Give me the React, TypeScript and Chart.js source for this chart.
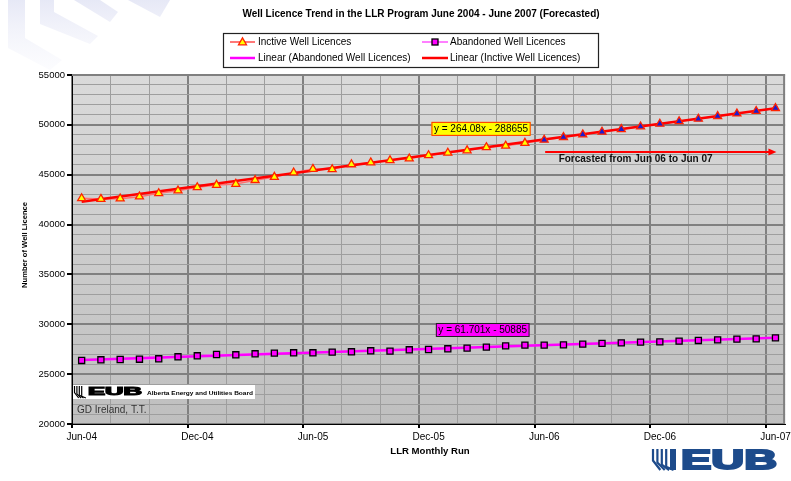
import React, { useEffect, useRef } from 'react';
import { Chart, registerables } from 'chart.js';
Chart.register(...registerables);

const FONT = '"Liberation Sans", Arial, Helvetica, sans-serif';

const chartTitle = 'Well Licence Trend in the LLR Program June 2004 - June 2007 (Forecasted)';
const xAxisTitle = 'LLR Monthly Run';
const yAxisTitle = 'Number of Well Licence';

const xTickLabels = ['Jun-04', 'Dec-04', 'Jun-05', 'Dec-05', 'Jun-06', 'Dec-06', 'Jun-07'];
const monthsPerLabel = 6;
const monthCount = 37;
const yMin = 20000;
const yMax = 55000;

// Inactive well licences, Jun-04 .. May-06 (actual)
const inactiveActual = [
  42630, 42560, 42600, 42800, 43130, 43400, 43730, 43970, 44070, 44450, 44770, 45210,
  45570, 45540, 46030, 46220, 46440, 46620, 46940, 47190, 47430, 47750, 47900, 48180,
];
// Inactive well licences, Jun-06 .. Jun-07 (forecast)
const inactiveForecast = [
  48490, 48760, 49030, 49300, 49560, 49830, 50100, 50350, 50600, 50870, 51130, 51380, 51670,
];
// Abandoned well licences, Jun-04 .. Jun-07
const abandoned = [
  26370, 26440, 26470, 26500, 26540, 26740, 26840, 26970, 26940, 27040, 27110, 27140,
  27140, 27210, 27240, 27340, 27310, 27440, 27470, 27540, 27610, 27710, 27840, 27910,
  27910, 27940, 28010, 28080, 28140, 28210, 28240, 28310, 28380, 28440, 28510, 28540, 28640,
];
// Linear trendlines: value at first and last month
const inactiveTrend = [42280, 51670];
const abandonedTrend = [26420, 28640];

const inactiveEquation = 'y = 264.08x - 288655';
const abandonedEquation = 'y = 61.701x - 50885';
const forecastNote = 'Forcasted from Jun 06 to Jun 07';
const credit = 'GD Ireland, T.T.';
const eubSmallText = 'Alberta Energy and Utilities Board';
const legendLabels = [
  'Inctive Well Licences',
  'Abandoned Well Licences',
  'Linear (Abandoned Well Licences)',
  'Linear (Inctive Well Licences)',
];

const bgStripes = [
  [[8, 0], [25, 0], [25, 38], [62, 60], [50, 70], [8, 48]],
  [[40, 0], [54, 0], [54, 12], [98, 36], [90, 44], [40, 24]],
  [[74, 0], [100, 0], [118, 12], [110, 22]],
  [[128, 0], [170, 0], [160, 17]],
];

function drawTriangle(ctx: CanvasRenderingContext2D, x: number, y: number, r: number, fill: string, stroke: string) {
  ctx.beginPath();
  ctx.moveTo(x, y - r);
  ctx.lineTo(x + r * 0.866, y + r / 2);
  ctx.lineTo(x - r * 0.866, y + r / 2);
  ctx.closePath();
  ctx.fillStyle = fill;
  ctx.fill();
  ctx.strokeStyle = stroke;
  ctx.lineWidth = 1.3;
  ctx.stroke();
}

function eqBox(ctx: CanvasRenderingContext2D, text: string, x: number, y: number, fill: string, stroke: string) {
  ctx.font = `10px ${FONT}`;
  const w = ctx.measureText(text).width;
  ctx.fillStyle = fill;
  ctx.fillRect(x, y, w + 5, 14);
  ctx.strokeStyle = stroke;
  ctx.lineWidth = 1;
  ctx.strokeRect(x + 0.5, y + 0.5, w + 4, 13);
  ctx.fillStyle = '#000';
  ctx.textAlign = 'left';
  ctx.textBaseline = 'middle';
  ctx.fillText(text, x + 2.5, y + 7.5);
}

function drawEubStripes(ctx: CanvasRenderingContext2D, x: number, top: number, h: number, color: string, w: number) {
  ctx.strokeStyle = color;
  ctx.lineWidth = w;
  for (let k = 0; k < 4; k++) {
    const sx = x + k * (w * 2);
    ctx.beginPath();
    ctx.moveTo(sx, top);
    ctx.lineTo(sx, top + h * (0.55 + k * 0.1));
    ctx.lineTo(sx + h * 0.35, top + h);
    ctx.stroke();
  }
}

function scaledText(ctx: CanvasRenderingContext2D, text: string, x: number, yBase: number, font: string, width: number, color: string, strokeW = 0) {
  ctx.font = font;
  const m = ctx.measureText(text).width;
  ctx.save();
  ctx.translate(x, yBase);
  ctx.scale(width / m, 1);
  ctx.fillStyle = color;
  ctx.textAlign = 'left';
  ctx.textBaseline = 'alphabetic';
  ctx.fillText(text, 0, 0);
  if (strokeW > 0) {
    ctx.strokeStyle = color;
    ctx.lineWidth = strokeW;
    ctx.lineJoin = 'miter';
    ctx.strokeText(text, 0, 0);
  }
  ctx.restore();
}

const decorPlugin = {
  id: 'decor',
  beforeDraw(chart: any) {
    const { ctx, chartArea: a, width, height } = chart;
    ctx.save();
    ctx.fillStyle = '#fff';
    ctx.fillRect(0, 0, width, height);
    const g = ctx.createLinearGradient(0, 0, 0, 72);
    g.addColorStop(0, 'rgba(214,217,240,0.6)');
    g.addColorStop(1, 'rgba(244,245,252,0.25)');
    ctx.fillStyle = g;
    for (const poly of bgStripes) {
      ctx.beginPath();
      poly.forEach(([px, py], i) => (i ? ctx.lineTo(px, py) : ctx.moveTo(px, py)));
      ctx.closePath();
      ctx.fill();
    }
    const pg = ctx.createLinearGradient(0, a.top, 0, a.bottom);
    pg.addColorStop(0, '#dadada');
    pg.addColorStop(1, '#bfbfbf');
    ctx.fillStyle = pg;
    ctx.fillRect(a.left, a.top, a.right - a.left, a.bottom - a.top);
    ctx.restore();
  },
  beforeDatasetsDraw(chart: any) {
    const { ctx, chartArea: a } = chart;
    ctx.save();
    ctx.strokeStyle = '#808080';
    ctx.lineWidth = 2;
    ctx.beginPath();
    ctx.moveTo(a.left, a.top);
    ctx.lineTo(a.right - 1, a.top);
    ctx.lineTo(a.right - 1, a.bottom);
    ctx.stroke();
    ctx.restore();
  },
  afterDraw(chart: any) {
    const { ctx, chartArea: a } = chart;
    const xs = chart.scales.x;
    const ys = chart.scales.y;
    ctx.save();

    // Title
    ctx.fillStyle = '#000';
    ctx.font = `bold 10px ${FONT}`;
    ctx.textAlign = 'center';
    ctx.textBaseline = 'middle';
    ctx.fillText(chartTitle, 421, 14);

    // Axis titles
    ctx.font = `bold 9.6px ${FONT}`;
    ctx.fillText(xAxisTitle, 430, 451);
    ctx.save();
    ctx.translate(25, 245);
    ctx.rotate(-Math.PI / 2);
    ctx.font = `bold 7.6px ${FONT}`;
    ctx.fillText(yAxisTitle, 0, 0);
    ctx.restore();

    // Legend
    ctx.fillStyle = '#fff';
    ctx.fillRect(223, 33, 375, 34);
    ctx.strokeStyle = '#222';
    ctx.lineWidth = 1.2;
    ctx.strokeRect(223.5, 33.5, 375, 34);
    ctx.lineCap = 'butt';
    const row1 = 42, row2 = 58;
    ctx.lineWidth = 2;
    ctx.strokeStyle = '#ff7878';
    ctx.beginPath(); ctx.moveTo(230, row1); ctx.lineTo(255, row1); ctx.stroke();
    drawTriangle(ctx, 242.5, row1 + 0.5, 4.6, '#ffff00', '#ff2200');
    ctx.strokeStyle = '#ff80ff';
    ctx.lineWidth = 2;
    ctx.beginPath(); ctx.moveTo(422, row1); ctx.lineTo(448, row1); ctx.stroke();
    ctx.fillStyle = '#ff00ff';
    ctx.fillRect(432, row1 - 3, 6, 6);
    ctx.strokeStyle = '#000';
    ctx.lineWidth = 1.3;
    ctx.strokeRect(432, row1 - 3, 6, 6);
    ctx.lineWidth = 2.5;
    ctx.strokeStyle = '#ff00ff';
    ctx.beginPath(); ctx.moveTo(230, row2); ctx.lineTo(255, row2); ctx.stroke();
    ctx.strokeStyle = '#ff0000';
    ctx.beginPath(); ctx.moveTo(422, row2); ctx.lineTo(448, row2); ctx.stroke();
    ctx.fillStyle = '#000';
    ctx.font = `10px ${FONT}`;
    ctx.textAlign = 'left';
    ctx.textBaseline = 'middle';
    ctx.fillText(legendLabels[0], 258, row1 + 0.5);
    ctx.fillText(legendLabels[1], 450, row1 + 0.5);
    ctx.fillText(legendLabels[2], 258, row2 + 0.5);
    ctx.fillText(legendLabels[3], 450, row2 + 0.5);

    // Equation labels
    eqBox(ctx, inactiveEquation, xs.getPixelForValue(18.65), ys.getPixelForValue(50300), '#ffff00', '#ff2a00');
    eqBox(ctx, abandonedEquation, xs.getPixelForValue(18.88), ys.getPixelForValue(30130), '#ff00ff', '#222');

    // Forecast arrow
    const ay = ys.getPixelForValue(47280);
    const ax1 = xs.getPixelForValue(24.55);
    const ax2 = xs.getPixelForValue(36.55);
    ctx.strokeStyle = '#ff0000';
    ctx.lineWidth = 2;
    ctx.beginPath(); ctx.moveTo(ax1, ay); ctx.lineTo(ax2 - 6, ay); ctx.stroke();
    ctx.fillStyle = '#ff0000';
    ctx.beginPath();
    ctx.moveTo(ax2, ay);
    ctx.lineTo(ax2 - 8, ay - 3.5);
    ctx.lineTo(ax2 - 8, ay + 3.5);
    ctx.closePath();
    ctx.fill();
    ctx.fillStyle = '#111';
    ctx.font = `bold 10px ${FONT}`;
    ctx.textAlign = 'left';
    ctx.textBaseline = 'middle';
    ctx.fillText(forecastNote, xs.getPixelForValue(25.25), ys.getPixelForValue(46560));

    // Small EUB logo inside plot
    const lx = a.left + 1;
    ctx.fillStyle = '#fff';
    ctx.fillRect(lx, 385, 182, 14);
    drawEubStripes(ctx, lx + 1.5, 386, 12, '#000', 1.2);
    scaledText(ctx, 'EUB', lx + 15, 395, `bold 10.5px ${FONT}`, 54, '#000', 1);
    scaledText(ctx, eubSmallText, lx + 74, 394.5, `bold 5px ${FONT}`, 106, '#000');

    // Credit
    ctx.fillStyle = '#333';
    ctx.font = `10px ${FONT}`;
    ctx.textAlign = 'left';
    ctx.textBaseline = 'middle';
    ctx.fillText(credit, 77, 410);

    // Large EUB logo bottom-right
    const blue = '#1d4b8b';
    drawEubStripes(ctx, 653, 449, 21, blue, 2.2);
    ctx.fillStyle = blue;
    ctx.fillRect(670, 449, 6, 21);
    scaledText(ctx, 'EUB', 681, 469, `bold 27px ${FONT}`, 96, blue, 2);

    ctx.restore();
  },
};

export default function App() {
  const ref = useRef<HTMLCanvasElement>(null);
  useEffect(() => {
    const canvas = ref.current;
    if (!canvas) return;
    const inactiveAll = [...inactiveActual, ...inactiveForecast];
    const pts = (arr: number[]) => arr.map((y, i) => ({ x: i + 0.5, y }));
    const trendPts = (arr: number[]) => [
      { x: 0.5, y: arr[0] },
      { x: monthCount - 0.5, y: arr[1] },
    ];
    const yTicks: number[] = [];
    for (let v = yMin; v <= yMax; v += 1000) yTicks.push(v);
    const xTicks: number[] = [];
    for (let m = 0; m < monthCount; m += 2) xTicks.push(m);

    const isMajorX = (c: any) => c.tick && c.tick.value % monthsPerLabel === 0;
    const isMajorY = (c: any) => c.tick && c.tick.value % 5000 === 0;

    const chart = new Chart(canvas, {
      type: 'line',
      data: {
        datasets: [
          {
            label: 'Inactive points',
            data: pts(inactiveAll),
            showLine: false,
            pointStyle: 'triangle',
            pointRadius: 4.6,
            pointBackgroundColor: (c: any) => (c.dataIndex >= inactiveActual.length ? '#1c1cd0' : '#ffff00'),
            pointBorderColor: '#ff2200',
            pointBorderWidth: 1.3,
            order: 1,
          },
          {
            label: 'Abandoned points',
            data: pts(abandoned),
            showLine: false,
            pointStyle: 'rect',
            pointRadius: 4.3,
            pointBackgroundColor: '#ff00ff',
            pointBorderColor: '#000',
            pointBorderWidth: 1.3,
            order: 1,
          },
          {
            label: 'Linear (Inctive Well Licences)',
            data: trendPts(inactiveTrend),
            borderColor: '#ff0000',
            borderWidth: 2.5,
            pointRadius: 0,
            order: 2,
          },
          {
            label: 'Linear (Abandoned Well Licences)',
            data: trendPts(abandonedTrend),
            borderColor: '#ff00ff',
            borderWidth: 2.5,
            pointRadius: 0,
            order: 2,
          },
          {
            label: 'Inctive Well Licences',
            data: pts(inactiveAll),
            borderColor: '#ff7070',
            borderWidth: 1.5,
            pointRadius: 0,
            order: 3,
          },
          {
            label: 'Abandoned Well Licences',
            data: pts(abandoned),
            borderColor: '#ff80ff',
            borderWidth: 1.5,
            pointRadius: 0,
            order: 3,
          },
        ],
      },
      options: {
        responsive: false,
        animation: false,
        devicePixelRatio: 1,
        events: [],
        layout: { padding: { top: 75, right: 4, left: 0, bottom: 0 } },
        plugins: {
          legend: { display: false },
          title: { display: false },
          tooltip: { enabled: false },
        },
        scales: {
          x: {
            type: 'linear',
            min: 0,
            max: monthCount,
            afterBuildTicks: (s: any) => {
              s.ticks = xTicks.map((v) => ({ value: v }));
            },
            afterFit: (s: any) => {
              s.height = 57;
            },
            ticks: {
              autoSkip: false,
              maxRotation: 0,
              minRotation: 0,
              padding: 3,
              labelOffset: 9.7,
              color: '#000',
              font: { family: FONT, size: 10 },
              callback: (v: any) => (v % monthsPerLabel === 0 ? xTickLabels[v / monthsPerLabel] : ''),
            },
            grid: {
              color: (c: any) => (isMajorX(c) ? '#808080' : '#9e9e9e'),
              lineWidth: (c: any) => (isMajorX(c) ? 2 : 1),
              tickColor: (c: any) => (isMajorX(c) ? '#000' : 'rgba(0,0,0,0)'),
              tickLength: 4,
              drawTicks: true,
            },
            border: { display: true, color: '#000', width: 1 },
          },
          y: {
            type: 'linear',
            min: yMin,
            max: yMax,
            afterBuildTicks: (s: any) => {
              s.ticks = yTicks.map((v) => ({ value: v }));
            },
            afterFit: (s: any) => {
              s.width = 72;
            },
            ticks: {
              autoSkip: false,
              padding: 2,
              color: '#000',
              font: { family: FONT, size: 9.5 },
              callback: (v: any) => (v % 5000 === 0 ? String(v) : ''),
            },
            grid: {
              color: (c: any) => (isMajorY(c) ? '#808080' : '#9e9e9e'),
              lineWidth: (c: any) => (isMajorY(c) ? 2 : 1),
              tickColor: (c: any) => (isMajorY(c) ? '#000' : 'rgba(0,0,0,0)'),
              tickLength: 5,
              drawTicks: true,
            },
            border: { display: true, color: '#000', width: 1 },
          },
        },
      },
      plugins: [decorPlugin],
    } as any);
    return () => chart.destroy();
  }, []);

  return (
    <div style={{ position: 'fixed', left: 0, top: 0, width: 791, height: 481, background: '#fff' }}>
      <canvas ref={ref} width={791} height={481} style={{ display: 'block', width: 791, height: 481 }} />
    </div>
  );
}
